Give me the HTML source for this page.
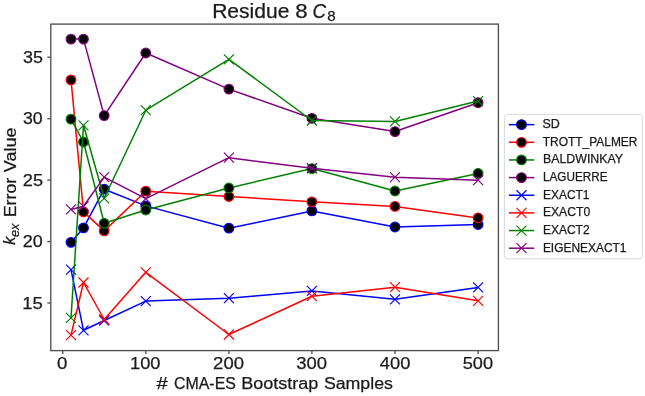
<!DOCTYPE html><html><head><meta charset="utf-8"><style>html,body{margin:0;padding:0;background:#fff;width:645px;height:396px;overflow:hidden}svg{display:block;filter:blur(0.4px)}text{font-family:"Liberation Sans",sans-serif;fill:#1a1a1a;stroke:#1a1a1a;stroke-width:0.25px}</style></head><body>
<svg width="645" height="396" viewBox="0 0 645 396">
<rect width="645" height="396" fill="#fff"/>
<g stroke-linejoin="round" stroke-linecap="butt">
<polyline points="71,242.3 83.5,227.9 104.2,189.2 145.8,205.9 228.9,228.2 311.9,210.95 395,227 478.1,224.5" fill="none" stroke="#0000ff" stroke-width="1.5"/>
<circle cx="71" cy="242.3" r="4.85" fill="#000" stroke="#0000ff" stroke-width="1.15"/>
<circle cx="83.5" cy="227.9" r="4.85" fill="#000" stroke="#0000ff" stroke-width="1.15"/>
<circle cx="104.2" cy="189.2" r="4.85" fill="#000" stroke="#0000ff" stroke-width="1.15"/>
<circle cx="145.8" cy="205.9" r="4.85" fill="#000" stroke="#0000ff" stroke-width="1.15"/>
<circle cx="228.9" cy="228.2" r="4.85" fill="#000" stroke="#0000ff" stroke-width="1.15"/>
<circle cx="311.9" cy="210.95" r="4.85" fill="#000" stroke="#0000ff" stroke-width="1.15"/>
<circle cx="395" cy="227" r="4.85" fill="#000" stroke="#0000ff" stroke-width="1.15"/>
<circle cx="478.1" cy="224.5" r="4.85" fill="#000" stroke="#0000ff" stroke-width="1.15"/>
<polyline points="71,79.9 83.5,211.9 104.2,230.9 145.8,191.2 228.9,196.5 311.9,201.8 395,206.4 478.1,217.9" fill="none" stroke="#ff0000" stroke-width="1.5"/>
<circle cx="71" cy="79.9" r="4.85" fill="#000" stroke="#ff0000" stroke-width="1.15"/>
<circle cx="83.5" cy="211.9" r="4.85" fill="#000" stroke="#ff0000" stroke-width="1.15"/>
<circle cx="104.2" cy="230.9" r="4.85" fill="#000" stroke="#ff0000" stroke-width="1.15"/>
<circle cx="145.8" cy="191.2" r="4.85" fill="#000" stroke="#ff0000" stroke-width="1.15"/>
<circle cx="228.9" cy="196.5" r="4.85" fill="#000" stroke="#ff0000" stroke-width="1.15"/>
<circle cx="311.9" cy="201.8" r="4.85" fill="#000" stroke="#ff0000" stroke-width="1.15"/>
<circle cx="395" cy="206.4" r="4.85" fill="#000" stroke="#ff0000" stroke-width="1.15"/>
<circle cx="478.1" cy="217.9" r="4.85" fill="#000" stroke="#ff0000" stroke-width="1.15"/>
<polyline points="71,119.2 83.5,142 104.2,223.3 145.8,210 228.9,188 311.9,168.55 395,191 478.1,173.4" fill="none" stroke="#008000" stroke-width="1.5"/>
<circle cx="71" cy="119.2" r="4.85" fill="#000" stroke="#008000" stroke-width="1.15"/>
<circle cx="83.5" cy="142" r="4.85" fill="#000" stroke="#008000" stroke-width="1.15"/>
<circle cx="104.2" cy="223.3" r="4.85" fill="#000" stroke="#008000" stroke-width="1.15"/>
<circle cx="145.8" cy="210" r="4.85" fill="#000" stroke="#008000" stroke-width="1.15"/>
<circle cx="228.9" cy="188" r="4.85" fill="#000" stroke="#008000" stroke-width="1.15"/>
<circle cx="311.9" cy="168.55" r="4.85" fill="#000" stroke="#008000" stroke-width="1.15"/>
<circle cx="395" cy="191" r="4.85" fill="#000" stroke="#008000" stroke-width="1.15"/>
<circle cx="478.1" cy="173.4" r="4.85" fill="#000" stroke="#008000" stroke-width="1.15"/>
<polyline points="71,39.1 83.5,39.1 104.2,115.6 145.8,53 228.9,89.1 311.9,118.3 395,131.55 478.1,102.7" fill="none" stroke="#800080" stroke-width="1.5"/>
<circle cx="71" cy="39.1" r="4.85" fill="#000" stroke="#800080" stroke-width="1.15"/>
<circle cx="83.5" cy="39.1" r="4.85" fill="#000" stroke="#800080" stroke-width="1.15"/>
<circle cx="104.2" cy="115.6" r="4.85" fill="#000" stroke="#800080" stroke-width="1.15"/>
<circle cx="145.8" cy="53" r="4.85" fill="#000" stroke="#800080" stroke-width="1.15"/>
<circle cx="228.9" cy="89.1" r="4.85" fill="#000" stroke="#800080" stroke-width="1.15"/>
<circle cx="311.9" cy="118.3" r="4.85" fill="#000" stroke="#800080" stroke-width="1.15"/>
<circle cx="395" cy="131.55" r="4.85" fill="#000" stroke="#800080" stroke-width="1.15"/>
<circle cx="478.1" cy="102.7" r="4.85" fill="#000" stroke="#800080" stroke-width="1.15"/>
<polyline points="71,269.7 83.5,330.3 104.2,320.5 145.8,301.1 228.9,298.2 311.9,290.9 395,299.3 478.1,287.4" fill="none" stroke="#0000ff" stroke-width="1.5"/>
<path d="M66 264.7L76 274.7M66 274.7L76 264.7" stroke="#0000ff" stroke-width="1.15" fill="none"/>
<path d="M78.5 325.3L88.5 335.3M78.5 335.3L88.5 325.3" stroke="#0000ff" stroke-width="1.15" fill="none"/>
<path d="M99.2 315.5L109.2 325.5M99.2 325.5L109.2 315.5" stroke="#0000ff" stroke-width="1.15" fill="none"/>
<path d="M140.8 296.1L150.8 306.1M140.8 306.1L150.8 296.1" stroke="#0000ff" stroke-width="1.15" fill="none"/>
<path d="M223.9 293.2L233.9 303.2M223.9 303.2L233.9 293.2" stroke="#0000ff" stroke-width="1.15" fill="none"/>
<path d="M306.9 285.9L316.9 295.9M306.9 295.9L316.9 285.9" stroke="#0000ff" stroke-width="1.15" fill="none"/>
<path d="M390 294.3L400 304.3M390 304.3L400 294.3" stroke="#0000ff" stroke-width="1.15" fill="none"/>
<path d="M473.1 282.4L483.1 292.4M473.1 292.4L483.1 282.4" stroke="#0000ff" stroke-width="1.15" fill="none"/>
<polyline points="71,335.1 83.5,282.5 104.2,319.5 145.8,272.3 228.9,334.5 311.9,296.2 395,287.2 478.1,300.8" fill="none" stroke="#ff0000" stroke-width="1.5"/>
<path d="M66 330.1L76 340.1M66 340.1L76 330.1" stroke="#ff0000" stroke-width="1.15" fill="none"/>
<path d="M78.5 277.5L88.5 287.5M78.5 287.5L88.5 277.5" stroke="#ff0000" stroke-width="1.15" fill="none"/>
<path d="M99.2 314.5L109.2 324.5M99.2 324.5L109.2 314.5" stroke="#ff0000" stroke-width="1.15" fill="none"/>
<path d="M140.8 267.3L150.8 277.3M140.8 277.3L150.8 267.3" stroke="#ff0000" stroke-width="1.15" fill="none"/>
<path d="M223.9 329.5L233.9 339.5M223.9 339.5L233.9 329.5" stroke="#ff0000" stroke-width="1.15" fill="none"/>
<path d="M306.9 291.2L316.9 301.2M306.9 301.2L316.9 291.2" stroke="#ff0000" stroke-width="1.15" fill="none"/>
<path d="M390 282.2L400 292.2M390 292.2L400 282.2" stroke="#ff0000" stroke-width="1.15" fill="none"/>
<path d="M473.1 295.8L483.1 305.8M473.1 305.8L483.1 295.8" stroke="#ff0000" stroke-width="1.15" fill="none"/>
<polyline points="71,317.9 83.5,125.3 104.2,198.3 145.8,110.2 228.9,59.3 311.9,120.5 395,121.4 478.1,101.1" fill="none" stroke="#008000" stroke-width="1.5"/>
<path d="M66 312.9L76 322.9M66 322.9L76 312.9" stroke="#008000" stroke-width="1.15" fill="none"/>
<path d="M78.5 120.3L88.5 130.3M78.5 130.3L88.5 120.3" stroke="#008000" stroke-width="1.15" fill="none"/>
<path d="M99.2 193.3L109.2 203.3M99.2 203.3L109.2 193.3" stroke="#008000" stroke-width="1.15" fill="none"/>
<path d="M140.8 105.2L150.8 115.2M140.8 115.2L150.8 105.2" stroke="#008000" stroke-width="1.15" fill="none"/>
<path d="M223.9 54.3L233.9 64.3M223.9 64.3L233.9 54.3" stroke="#008000" stroke-width="1.15" fill="none"/>
<path d="M306.9 115.5L316.9 125.5M306.9 125.5L316.9 115.5" stroke="#008000" stroke-width="1.15" fill="none"/>
<path d="M390 116.4L400 126.4M390 126.4L400 116.4" stroke="#008000" stroke-width="1.15" fill="none"/>
<path d="M473.1 96.1L483.1 106.1M473.1 106.1L483.1 96.1" stroke="#008000" stroke-width="1.15" fill="none"/>
<polyline points="71,209.4 83.5,206.3 104.2,177.1 145.8,198.6 228.9,157.7 311.9,168.25 395,177.2 478.1,180.2" fill="none" stroke="#800080" stroke-width="1.5"/>
<path d="M66 204.4L76 214.4M66 214.4L76 204.4" stroke="#800080" stroke-width="1.15" fill="none"/>
<path d="M78.5 201.3L88.5 211.3M78.5 211.3L88.5 201.3" stroke="#800080" stroke-width="1.15" fill="none"/>
<path d="M99.2 172.1L109.2 182.1M99.2 182.1L109.2 172.1" stroke="#800080" stroke-width="1.15" fill="none"/>
<path d="M140.8 193.6L150.8 203.6M140.8 203.6L150.8 193.6" stroke="#800080" stroke-width="1.15" fill="none"/>
<path d="M223.9 152.7L233.9 162.7M223.9 162.7L233.9 152.7" stroke="#800080" stroke-width="1.15" fill="none"/>
<path d="M306.9 163.25L316.9 173.25M306.9 173.25L316.9 163.25" stroke="#800080" stroke-width="1.15" fill="none"/>
<path d="M390 172.2L400 182.2M390 182.2L400 172.2" stroke="#800080" stroke-width="1.15" fill="none"/>
<path d="M473.1 175.2L483.1 185.2M473.1 185.2L483.1 175.2" stroke="#800080" stroke-width="1.15" fill="none"/>
</g>
<rect x="50.8" y="24.1" width="447.6" height="326.5" fill="none" stroke="#505050" stroke-width="1.35"/>
<line x1="62.7" y1="350.6" x2="62.7" y2="354.1" stroke="#505050" stroke-width="1.35"/>
<line x1="145.8" y1="350.6" x2="145.8" y2="354.1" stroke="#505050" stroke-width="1.35"/>
<line x1="228.9" y1="350.6" x2="228.9" y2="354.1" stroke="#505050" stroke-width="1.35"/>
<line x1="311.9" y1="350.6" x2="311.9" y2="354.1" stroke="#505050" stroke-width="1.35"/>
<line x1="395" y1="350.6" x2="395" y2="354.1" stroke="#505050" stroke-width="1.35"/>
<line x1="478.1" y1="350.6" x2="478.1" y2="354.1" stroke="#505050" stroke-width="1.35"/>
<line x1="47.3" y1="303" x2="50.8" y2="303" stroke="#505050" stroke-width="1.35"/>
<line x1="47.3" y1="241.55" x2="50.8" y2="241.55" stroke="#505050" stroke-width="1.35"/>
<line x1="47.3" y1="180.1" x2="50.8" y2="180.1" stroke="#505050" stroke-width="1.35"/>
<line x1="47.3" y1="118.65" x2="50.8" y2="118.65" stroke="#505050" stroke-width="1.35"/>
<line x1="47.3" y1="57.2" x2="50.8" y2="57.2" stroke="#505050" stroke-width="1.35"/>
<text x="212.15" y="17.5" font-size="19.3" textLength="77.29" lengthAdjust="spacingAndGlyphs">Residue</text>
<text x="295.2" y="17.5" font-size="19.3" textLength="12.36" lengthAdjust="spacingAndGlyphs">8</text>
<text x="312.5" y="17.5" font-size="19.3" font-style="italic" textLength="13.59" lengthAdjust="spacingAndGlyphs">C</text>
<text x="327.25" y="20.6" font-size="14.4" textLength="8.41" lengthAdjust="spacingAndGlyphs">8</text>
<text x="156.6" y="388.8" font-size="16" textLength="11.21" lengthAdjust="spacingAndGlyphs">#</text>
<text x="173.95" y="388.8" font-size="16" textLength="61.94" lengthAdjust="spacingAndGlyphs">CMA-ES</text>
<text x="241.3" y="388.8" font-size="16" textLength="77.02" lengthAdjust="spacingAndGlyphs">Bootstrap</text>
<text x="323.9" y="388.8" font-size="16" textLength="69.03" lengthAdjust="spacingAndGlyphs">Samples</text>
<text x="57.05" y="369.3" font-size="16.8" textLength="10.39" lengthAdjust="spacingAndGlyphs">0</text>
<text x="130" y="369.3" font-size="16.8" textLength="30.44" lengthAdjust="spacingAndGlyphs">100</text>
<text x="213.1" y="369.3" font-size="16.8" textLength="30.85" lengthAdjust="spacingAndGlyphs">200</text>
<text x="296.35" y="369.3" font-size="16.8" textLength="30.78" lengthAdjust="spacingAndGlyphs">300</text>
<text x="379.8" y="369.3" font-size="16.8" textLength="30.5" lengthAdjust="spacingAndGlyphs">400</text>
<text x="462.75" y="369.3" font-size="16.8" textLength="30.28" lengthAdjust="spacingAndGlyphs">500</text>
<text x="22.3" y="308.6" font-size="16.8" textLength="20.52" lengthAdjust="spacingAndGlyphs">15</text>
<text x="22.8" y="247.15" font-size="16.8" textLength="19.94" lengthAdjust="spacingAndGlyphs">20</text>
<text x="22.8" y="185.7" font-size="16.8" textLength="20.22" lengthAdjust="spacingAndGlyphs">25</text>
<text x="23.05" y="124.25" font-size="16.8" textLength="19.65" lengthAdjust="spacingAndGlyphs">30</text>
<text x="23.05" y="62.8" font-size="16.8" textLength="19.92" lengthAdjust="spacingAndGlyphs">35</text>
<text transform="translate(15.1,244.85) rotate(-90)" font-size="16" font-style="italic" textLength="8.16" lengthAdjust="spacingAndGlyphs">k</text>
<text transform="translate(18.5,237.1) rotate(-90)" font-size="12.4" font-style="italic" textLength="13.46" lengthAdjust="spacingAndGlyphs">ex</text>
<text transform="translate(15.7,217.3) rotate(-90)" font-size="16" textLength="39.53" lengthAdjust="spacingAndGlyphs">Error</text>
<text transform="translate(15.7,172.15) rotate(-90)" font-size="16" textLength="44.53" lengthAdjust="spacingAndGlyphs">Value</text>
<rect x="504.4" y="114.4" width="137.9" height="144.4" rx="3" ry="3" fill="#fff" fill-opacity="0.8" stroke="#d9d9d9" stroke-width="1"/>
<line x1="508.9" y1="124.65" x2="534.3" y2="124.65" stroke="#0000ff" stroke-width="1.5"/>
<circle cx="521.5" cy="124.65" r="4.85" fill="#000" stroke="#0000ff" stroke-width="1.15"/>
<text x="542.45" y="128.1" font-size="11.9" textLength="17.34" lengthAdjust="spacingAndGlyphs">SD</text>
<line x1="508.9" y1="142.3" x2="534.3" y2="142.3" stroke="#ff0000" stroke-width="1.5"/>
<circle cx="521.5" cy="142.3" r="4.85" fill="#000" stroke="#ff0000" stroke-width="1.15"/>
<text x="542.75" y="145.77" font-size="11.9" textLength="94.71" lengthAdjust="spacingAndGlyphs">TROTT_PALMER</text>
<line x1="508.9" y1="159.95" x2="534.3" y2="159.95" stroke="#008000" stroke-width="1.5"/>
<circle cx="521.5" cy="159.95" r="4.85" fill="#000" stroke="#008000" stroke-width="1.15"/>
<text x="542.9" y="163.44" font-size="11.9" textLength="80.22" lengthAdjust="spacingAndGlyphs">BALDWINKAY</text>
<line x1="508.9" y1="177.6" x2="534.3" y2="177.6" stroke="#800080" stroke-width="1.5"/>
<circle cx="521.5" cy="177.6" r="4.85" fill="#000" stroke="#800080" stroke-width="1.15"/>
<text x="542.9" y="181.11" font-size="11.9" textLength="64.63" lengthAdjust="spacingAndGlyphs">LAGUERRE</text>
<line x1="508.9" y1="195.25" x2="534.3" y2="195.25" stroke="#0000ff" stroke-width="1.5"/>
<path d="M516.5 190.25L526.5 200.25M516.5 200.25L526.5 190.25" stroke="#0000ff" stroke-width="1.15" fill="none"/>
<text x="542.9" y="198.78" font-size="11.9" textLength="46.65" lengthAdjust="spacingAndGlyphs">EXACT1</text>
<line x1="508.9" y1="212.9" x2="534.3" y2="212.9" stroke="#ff0000" stroke-width="1.5"/>
<path d="M516.5 207.9L526.5 217.9M516.5 217.9L526.5 207.9" stroke="#ff0000" stroke-width="1.15" fill="none"/>
<text x="542.9" y="216.45" font-size="11.9" textLength="47.34" lengthAdjust="spacingAndGlyphs">EXACT0</text>
<line x1="508.9" y1="230.55" x2="534.3" y2="230.55" stroke="#008000" stroke-width="1.5"/>
<path d="M516.5 225.55L526.5 235.55M516.5 235.55L526.5 225.55" stroke="#008000" stroke-width="1.15" fill="none"/>
<text x="542.9" y="234.12" font-size="11.9" textLength="46.75" lengthAdjust="spacingAndGlyphs">EXACT2</text>
<line x1="508.9" y1="248.2" x2="534.3" y2="248.2" stroke="#800080" stroke-width="1.5"/>
<path d="M516.5 243.2L526.5 253.2M516.5 253.2L526.5 243.2" stroke="#800080" stroke-width="1.15" fill="none"/>
<text x="542.9" y="251.79" font-size="11.9" textLength="83.53" lengthAdjust="spacingAndGlyphs">EIGENEXACT1</text>
</svg></body></html>
